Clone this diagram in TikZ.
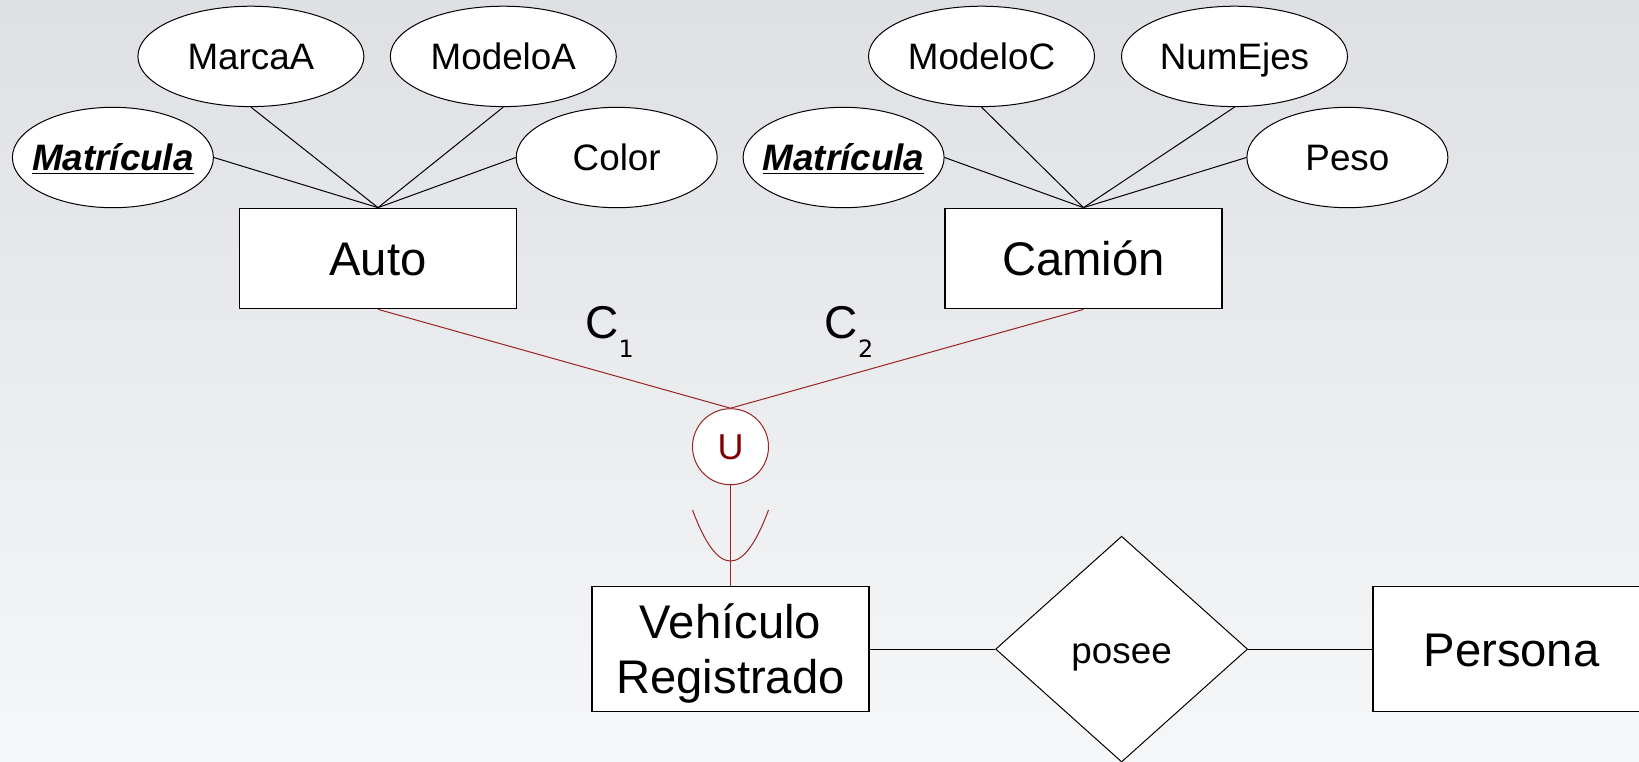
\documentclass[tikz,border=0pt]{standalone}
\usepackage{fontspec}
\setmainfont{Liberation Sans}
\newfontfamily\subfont{DejaVu Sans}
\usetikzlibrary{shapes.geometric}
\definecolor{bgtop}{RGB}{222,224,228}
\definecolor{bgbot}{RGB}{246,247,248}
\definecolor{isared}{RGB}{155,35,35}
\definecolor{utext}{RGB}{128,0,0}
\newcommand\ctrtext[1]{\makebox[0pt]{#1}}
\newcommand\csub[1]{\raisebox{-9.5pt}{\subfont\fontsize{11.9}{13}\selectfont #1}}
\begin{document}
\begin{tikzpicture}[x=0.5pt,y=-0.5pt,
  entitybase/.style={draw=black, fill=white, line width=0.6pt, minimum width=138.5pt, inner sep=0pt, font=\fontsize{23.6}{27.2}\selectfont},
  entity/.style={entitybase, text height=16.9pt, text depth=0pt},
  attrbig/.style={ellipse, draw=black, fill=white, line width=0.5pt, minimum width=113pt, minimum height=50.2pt, inner sep=0pt, font=\fontsize{18.4}{22}\selectfont, text height=13.17pt, text depth=0pt},
  attrsmall/.style={attrbig, minimum width=100.5pt},
  keyattr/.style={attrsmall, font=\fontsize{18.4}{22}\selectfont\bfseries\itshape},
  rel/.style={diamond, draw=black, fill=white, line width=0.5pt, minimum width=126pt, minimum height=112.9pt, inner sep=0pt, font=\fontsize{18.4}{22}\selectfont, text height=14pt, text depth=0pt},
  unioncirc/.style={circle, draw=isared, fill=white, line width=0.5pt, minimum size=38pt, inner sep=0pt, text=utext, font=\fontsize{18}{20}\selectfont, text height=12.9pt, text depth=0pt},
  conn/.style={draw=black, line width=0.5pt},
  isa/.style={draw=isared, line width=0.5pt},
  clabel/.style={anchor=base west, inner sep=0pt, font=\fontsize{23}{26}\selectfont},
]
\useasboundingbox (0,0) rectangle (1639,761);
\clip (0,0) rectangle (1639,761);
\shade[top color=bgtop, bottom color=bgbot] (0,0) rectangle (1639,761);

% entities
\node[entity, minimum height=50.25pt] (auto) at (378,258.5) {Auto};
\node[entity, minimum height=50.25pt] (camion) at (1083.5,258.5) {Camión};
\node[entitybase, minimum height=62.7pt, text height=16.9pt, text depth=27.2pt] (veh) at (730.5,649.1) {\begin{tabular}[t]{@{}c@{}}Vehículo\\Registrado\end{tabular}};
\node[entity, minimum height=62.7pt] (persona) at (1511.5,649.1) {Persona};

% attributes of Auto
\node[keyattr] (matA) at (112.9,157.5) {\ctrtext{\underline{Matrícula}}};
\node[attrbig] (marcaA) at (250.9,56.4) {\ctrtext{MarcaA}};
\node[attrbig] (modeloA) at (503.3,56.4) {\ctrtext{ModeloA}};
\node[attrsmall] (colorA) at (616.7,157.5) {\ctrtext{Color}};

% attributes of Camion
\node[keyattr] (matC) at (843.6,157.5) {\ctrtext{\underline{Matrícula}}};
\node[attrbig] (modeloC) at (981.5,56.4) {\ctrtext{ModeloC}};
\node[attrbig] (numejes) at (1234.5,56.4) {\ctrtext{NumEjes}};
\node[attrsmall] (peso) at (1347.4,157.5) {\ctrtext{Peso}};

\draw[conn] (matA.east) -- (auto.north);
\draw[conn] (marcaA.south) -- (auto.north);
\draw[conn] (modeloA.south) -- (auto.north);
\draw[conn] (colorA.west) -- (auto.north);

\draw[conn] (matC.east) -- (camion.north);
\draw[conn] (modeloC.south) -- (camion.north);
\draw[conn] (numejes.south) -- (camion.north);
\draw[conn] (peso.west) -- (camion.north);

% union
\node[unioncirc] (u) at (730.5,446.7) {U};
\draw[isa] (auto.south) -- (u.north);
\draw[isa] (camion.south) -- (u.north);
\draw[isa] (u.south) -- (veh.north);
\draw[isa] (692.5,510) .. controls (717.8,578) and (743.2,578) .. (768.5,510);

\node[clabel] (c1) at (585,338.3) {C\csub{1}};
\node[clabel] (c2) at (824.4,338.3) {C\csub{2}};

% relationship
\node[rel] (posee) at (1121.6,649.1) {posee};
\draw[conn] (veh.east) -- (posee.west);
\draw[conn] (posee.east) -- (persona.west);
\end{tikzpicture}
\end{document}
